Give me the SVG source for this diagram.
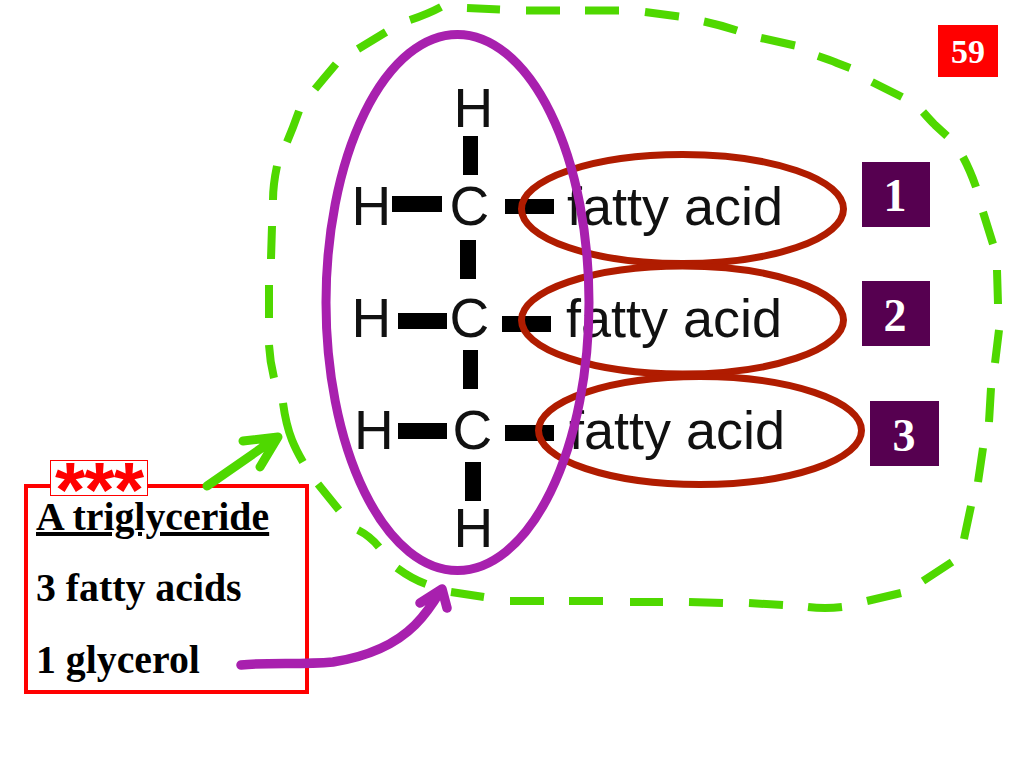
<svg xmlns="http://www.w3.org/2000/svg" width="1024" height="768" viewBox="0 0 1024 768">
<style>
.sans{font-family:"Liberation Sans",Arial,sans-serif;fill:#111}
.atom{font-size:55px}
.fa{font-size:54px}
.serif{font-family:"Liberation Serif","Times New Roman",serif;font-weight:bold}
.lbl{font-size:39.8px;fill:#000}
.num{font-size:46px;fill:#fff;text-anchor:middle}
.sq{fill:#560050}
.bond{fill:#000}
.red{fill:none;stroke:#b01c00;stroke-width:7}
.dash{fill:none;stroke:#4fd800;stroke-width:8}
</style>
<rect width="1024" height="768" fill="#fff"/>
<g id="bonds">
<rect class="bond" x="463" y="136" width="15" height="39"/>
<rect class="bond" x="392" y="196" width="50" height="16"/>
<rect class="bond" x="505" y="199" width="49" height="15"/>
<rect class="bond" x="460" y="240" width="16" height="39"/>
<rect class="bond" x="398" y="313" width="49" height="16"/>
<rect class="bond" x="502" y="316" width="49" height="16"/>
<rect class="bond" x="463" y="350" width="15" height="39"/>
<rect class="bond" x="398" y="423" width="49" height="16"/>
<rect class="bond" x="505" y="425" width="49" height="16"/>
<rect class="bond" x="465" y="462" width="16" height="39"/>
</g>
<g id="atoms">
<text class="sans atom" x="453.500" y="127">H</text>
<text class="sans atom" x="351.500" y="225">H</text>
<text class="sans atom" x="449.500" y="225">C</text>
<text class="sans atom" x="351.500" y="337">H</text>
<text class="sans atom" x="449.500" y="337">C</text>
<text class="sans atom" x="354" y="449">H</text>
<text class="sans atom" x="452.500" y="449">C</text>
<text class="sans atom" x="453.500" y="547">H</text>
</g>
<g id="fatty-acid-1"><text class="sans fa" x="567" y="225">fatty acid</text><ellipse class="red" cx="682.500" cy="209" rx="161" ry="54.500"/></g>
<g id="fatty-acid-2"><text class="sans fa" x="566" y="337">fatty acid</text><ellipse class="red" cx="682.500" cy="320" rx="161" ry="54"/></g>
<g id="fatty-acid-3"><text class="sans fa" x="569" y="449">fatty acid</text><ellipse class="red" cx="700" cy="430.500" rx="161.500" ry="54"/></g>
<g id="glycerol-ring"><ellipse cx="457.500" cy="302.500" rx="131.500" ry="268" fill="none" stroke="#a820ae" stroke-width="9"/></g>
<g id="triglyceride-outline"><path class="dash" d="M467,8L500,9.500M526,10.500H560M585,10.500H619M645,12L679,16.500M704,21.500Q720,25 737,30.500M761,38L795,45.500M818,56Q830,60 837,63L850,68M872,82L902,97M923,112Q930,120 935,125L947,136M963,157Q970,170 976,187M983,212L993,244M997,270L998,304M999,330L995,363M991,388L989,422M983,448L978,482M971,506L964,539M952,562L923,581M901,593L867,601M842,607Q825,609 808,607M783,605L749,603M723,603L689,602M663,602H630M603,601H569M544,601H510M484,597L451,592M426,584Q412,579 397,568M379,547Q370,536 358,530M339,510L318,484M303,462Q296,450 292,440Q286,425 283,403M274,378Q270,362 269,345M269,318V285M271,259L272,226M273,200Q273,185 277,166M287,142Q293,128 299,111M315,89Q325,77 336,64M358,49L386,32M410,20Q428,14 441,7"/></g>
<g id="badge-59"><rect x="938" y="25" width="60" height="52" fill="#f00"/><text class="serif" x="968" y="63" font-size="34" fill="#fff" text-anchor="middle">59</text></g>
<g id="label-1"><rect class="sq" x="862" y="162" width="68" height="65"/><text class="serif num" x="895" y="211">1</text></g>
<g id="label-2"><rect class="sq" x="862" y="281" width="68" height="65"/><text class="serif num" x="895" y="331">2</text></g>
<g id="label-3"><rect class="sq" x="870" y="401" width="69" height="65"/><text class="serif num" x="904" y="451">3</text></g>
<g id="legend">
<rect x="26" y="486" width="281" height="206" fill="#fff" stroke="#f00" stroke-width="4"/>
<text class="serif lbl" x="36" y="530" text-decoration="underline">A triglyceride</text>
<text class="serif lbl" x="36" y="601">3 fatty acids</text>
<text class="serif lbl" x="36" y="673">1 glycerol</text>
</g>
<g id="stars"><rect x="50.500" y="460.500" width="97" height="35" fill="#fff" stroke="#f00" stroke-width="1"/><text x="55" y="517" font-family="Liberation Sans, Arial, sans-serif" font-weight="bold" font-size="78" letter-spacing="-1" fill="#f00">***</text></g>
<g id="connectors" fill="none" stroke-linecap="round" stroke-linejoin="round">
<path stroke="#4fd800" stroke-width="9" d="M207,486L276,438M243,441L278,437L260,467"/>
<path stroke="#a820ae" stroke-width="9.500" d="M241,665C270,662 300,665 333,662C365,657 395,645 415,625C428,612 435,600 441,590M420,603L442,589L447,608"/>
</g>
</svg>
